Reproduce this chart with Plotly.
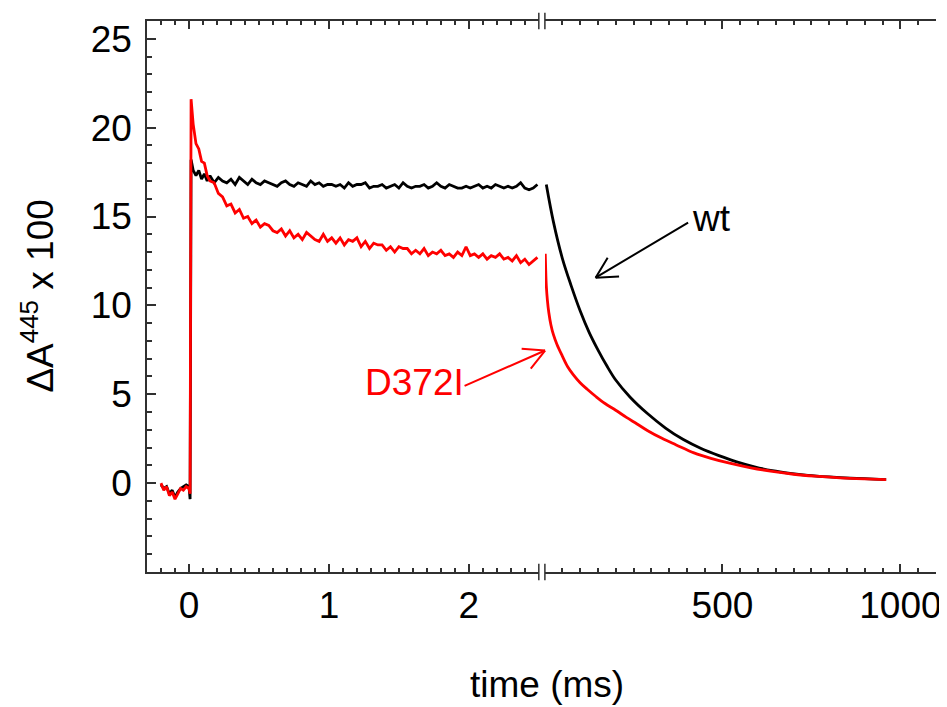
import math
import plotly.graph_objects as go

# ---------------- data ----------------
# fast time base (ms), left panel
t_fast = [-0.20, -0.18, -0.16, -0.14, -0.12, -0.10, -0.08, -0.06, -0.04, -0.02, 0.00, 0.008,
          0.015, 0.03, 0.05, 0.07, 0.09, 0.11, 0.13, 0.15,
          0.18, 0.21, 0.24, 0.27, 0.30, 0.33, 0.36, 0.39, 0.42, 0.45,
          0.48, 0.51, 0.54, 0.57, 0.60, 0.63, 0.66, 0.69, 0.72, 0.75,
          0.78, 0.81, 0.84, 0.87, 0.90, 0.93, 0.96, 0.99, 1.02, 1.05,
          1.08, 1.11, 1.14, 1.17, 1.20, 1.23, 1.26, 1.29, 1.32, 1.35,
          1.38, 1.41, 1.44, 1.47, 1.50, 1.53, 1.56, 1.59, 1.62, 1.65,
          1.68, 1.71, 1.74, 1.77, 1.80, 1.83, 1.86, 1.89, 1.92, 1.95,
          1.98, 2.01, 2.04, 2.07, 2.10, 2.13, 2.16, 2.19, 2.22, 2.25,
          2.28, 2.31, 2.34, 2.37, 2.40, 2.43, 2.46, 2.49]

wt_fast = [-0.1, -0.3, -0.2, -0.6, -0.4, -0.8, -0.5, -0.3, -0.2, -0.1, -0.2, -0.9,
           18.2, 17.6, 17.3, 17.6, 17.1, 17.4, 17.0, 17.3,
           16.9, 17.2, 17.0, 16.9, 17.1, 16.8, 17.2, 17.0, 16.8, 17.1,
           16.9, 16.8, 17.0, 16.9, 16.8, 16.7, 16.9, 17.0, 16.8, 16.7,
           16.9, 16.8, 16.7, 17.0, 16.8, 16.9, 16.7, 16.8, 16.8, 16.7,
           16.8, 16.6, 16.9, 16.7, 16.8, 16.8, 16.9, 16.6, 16.7, 16.7,
           16.8, 16.6, 16.7, 16.8, 16.6, 16.9, 16.7, 16.6, 16.7, 16.7,
           16.8, 16.6, 16.7, 16.9, 16.7, 16.6, 16.8, 16.7, 16.6, 16.6,
           16.7, 16.6, 16.7, 16.8, 16.6, 16.7, 16.6, 16.8, 16.7, 16.6,
           16.7, 16.6, 16.7, 16.9, 16.6, 16.5, 16.6, 16.8]

d372i_fast = [0.0, -0.4, -0.2, -0.7, -0.5, -0.9, -0.6, -0.3, -0.4, -0.2, -0.3, -0.6,
              21.6, 20.2, 19.1, 18.8, 18.1, 18.0, 17.3, 17.0,
              16.9, 16.3, 16.1, 15.6, 15.7, 15.2, 15.4, 14.9, 15.0, 14.6,
              14.8, 14.4, 14.6, 14.5, 14.2, 14.1, 14.3, 13.9, 14.2, 13.8,
              14.0, 13.7, 14.1, 13.9, 13.7, 13.6, 14.0, 13.6, 13.8, 13.5,
              13.8, 13.4, 13.7, 13.6, 13.8, 13.3, 13.6, 13.2, 13.5, 13.4,
              13.4, 13.1, 13.3, 13.0, 13.3, 13.2, 13.2, 12.9, 13.1, 12.9,
              13.2, 12.8, 13.0, 12.9, 13.1, 12.8, 12.9, 12.7, 13.0, 12.8,
              13.3, 12.8, 12.9, 12.7, 12.9, 12.6, 12.8, 12.7, 12.9, 12.6,
              12.7, 12.5, 12.8, 12.4, 12.6, 12.3, 12.5, 12.7]

# slow time base (ms), right panel
t_slow_wt = [5, 25, 50, 75, 100, 125, 150, 175, 200, 240, 290, 340, 390, 440, 490,
             540, 590, 640, 690, 740, 800, 860, 960]
wt_slow = [16.8, 14.7, 12.65, 11.1, 9.7, 8.5, 7.5, 6.6, 5.8, 4.85, 3.9, 3.1, 2.45, 1.95, 1.55,
           1.2, 0.92, 0.7, 0.55, 0.44, 0.35, 0.28, 0.2]

t_slow_mut = [2, 3, 5, 8, 12, 18, 25, 35, 50, 65, 80, 100, 120, 145, 170, 200, 230, 260,
              290, 330, 370, 420, 470, 520, 580, 640, 700, 760, 830, 900, 960]
d372i_slow = [12.9, 12.2, 11.1, 10.3, 9.6, 8.9, 8.35, 7.8, 7.15, 6.55, 6.12, 5.65, 5.28, 4.86,
              4.48, 4.1, 3.7, 3.33, 2.95, 2.52, 2.15, 1.7, 1.38, 1.12, 0.86, 0.66, 0.5, 0.39,
              0.3, 0.24, 0.2]

x_ticks_fast = [0, 1, 2]
x_ticks_slow = [500, 1000]
y_ticks = [0, 5, 10, 15, 20, 25]

# ---------------- figure ----------------
FONT = "Liberation Sans, Arial, sans-serif"
FS = 37
AX = "#303030"
BLACK = "#000000"
RED = "#ff0000"
LW = 2.8

fig = go.Figure()
fig.add_trace(go.Scatter(x=t_fast, y=wt_fast, mode="lines", xaxis="x", yaxis="y",
                         line=dict(color=BLACK, width=LW), name="wt", showlegend=False))
fig.add_trace(go.Scatter(x=t_fast, y=d372i_fast, mode="lines", xaxis="x", yaxis="y",
                         line=dict(color=RED, width=LW), name="D372I", showlegend=False))
fig.add_trace(go.Scatter(x=t_slow_wt, y=wt_slow, mode="lines", xaxis="x2", yaxis="y",
                         line=dict(color=BLACK, width=LW, shape="spline"), name="wt", showlegend=False))
fig.add_trace(go.Scatter(x=t_slow_mut, y=d372i_slow, mode="lines", xaxis="x2", yaxis="y",
                         line=dict(color=RED, width=LW, shape="spline"), name="D372I", showlegend=False))

L_END = 0.4966
R_START = 0.5043

common_x = dict(showgrid=False, zeroline=False, showline=True, linecolor=AX, linewidth=1.5,
                mirror="allticks", ticks="inside", ticklen=8, tickwidth=1.5, tickcolor=AX,
                tickfont=dict(family=FONT, size=FS, color=BLACK), ticklabelstandoff=0,
                tickmode="array", automargin=False)

# the page body adds an 8 px offset, so margins are shifted to compensate
fig.update_layout(
    width=947, height=707,
    margin=dict(l=139, r=19, t=13, b=143),
    paper_bgcolor="white", plot_bgcolor="white",
    showlegend=False,
    xaxis=dict(domain=[0, L_END], range=[-0.3, 2.5], tickvals=x_ticks_fast,
               ticktext=[str(v) for v in x_ticks_fast], anchor="y",
               minor=dict(tickmode="linear", tick0=0, dtick=0.1, ticks="inside", ticklen=4,
                          tickwidth=1.5, tickcolor=AX),
               **common_x),
    xaxis2=dict(domain=[R_START, 1], range=[1, 1100], tickvals=x_ticks_slow,
                ticktext=[str(v) for v in x_ticks_slow], anchor="y",
                minor=dict(tickmode="linear", tick0=0, dtick=50, ticks="inside", ticklen=4,
                           tickwidth=1.5, tickcolor=AX),
                **common_x),
    yaxis=dict(domain=[0, 1], range=[-5, 26], anchor="x", showgrid=False, zeroline=False,
               showline=True, linecolor=AX, linewidth=1.5, ticks="inside", ticklen=9,
               tickwidth=1.5, tickcolor=AX, tickmode="array", tickvals=y_ticks,
               ticktext=[str(v) for v in y_ticks], automargin=False,
               tickfont=dict(family=FONT, size=FS, color=BLACK), ticklabelstandoff=6,
               minor=dict(tickmode="linear", tick0=0, dtick=1, ticks="inside", ticklen=5,
                          tickwidth=1.5, tickcolor=AX)),
    yaxis2=dict(domain=[0, 1], range=[-5, 26], anchor="x2", overlaying="y", side="right",
                showgrid=False, zeroline=False, showline=True, linecolor=AX, linewidth=1.5,
                ticks="inside", ticklen=9, tickwidth=1.5, tickcolor=AX, tickmode="array",
                tickvals=y_ticks, showticklabels=False, automargin=False,
                minor=dict(tickmode="linear", tick0=0, dtick=1, ticks="inside", ticklen=5,
                           tickwidth=1.5, tickcolor=AX)),
)

# axis-break marks (top and bottom)
for xb in (L_END, R_START):
    for y0, y1 in ((-0.015, 0.015), (0.985, 1.015)):
        fig.add_shape(type="line", xref="paper", yref="paper", x0=xb, x1=xb, y0=y0, y1=y1,
                      line=dict(color=AX, width=1.5))

annotations = [
    # axis titles
    dict(text="time (ms)", xref="paper", yref="paper", x=0.507, y=-0.205,
         xanchor="center", yanchor="middle", showarrow=False,
         font=dict(family=FONT, size=FS, color=BLACK)),
    dict(text="ΔA<sup>445</sup> x 100", xref="paper", yref="paper", x=-0.138, y=0.50,
         xanchor="center", yanchor="middle", textangle=-90, showarrow=False,
         font=dict(family=FONT, size=FS, color=BLACK)),
    # labels
    dict(text="wt", xref="x2", yref="y", x=470, y=14.9, xanchor="center", yanchor="middle",
         showarrow=False, font=dict(family=FONT, size=FS, color=BLACK)),
    dict(text="D372I", xref="x", yref="y", x=1.613, y=5.64, xanchor="center", yanchor="middle",
         showarrow=False, font=dict(family=FONT, size=FS, color=RED)),
]


def open_arrow(x, y, ax, ay, color, xref="x2", yref="y", head=25, spread=28):
    """Shaft from tail offset (ax, ay) px to tip (x, y), plus two thin head strokes."""
    items = [dict(text="", xref=xref, yref=yref, x=x, y=y, ax=ax, ay=ay, showarrow=True,
                  arrowhead=0, arrowwidth=2, arrowcolor=color, standoff=0)]
    ang = math.atan2(ay, ax)
    for s in (-1, 1):
        a = ang + s * math.radians(spread)
        items.append(dict(text="", xref=xref, yref=yref, x=x, y=y,
                          ax=head * math.cos(a), ay=head * math.sin(a), showarrow=True,
                          arrowhead=0, arrowwidth=2, arrowcolor=color, standoff=0))
    return items


annotations += open_arrow(143.5, 11.56, 94, -56, BLACK)
annotations += open_arrow(1.5, 7.46, -82, 36, RED)
fig.update_layout(annotations=annotations)

fig.write_html("out.html")
